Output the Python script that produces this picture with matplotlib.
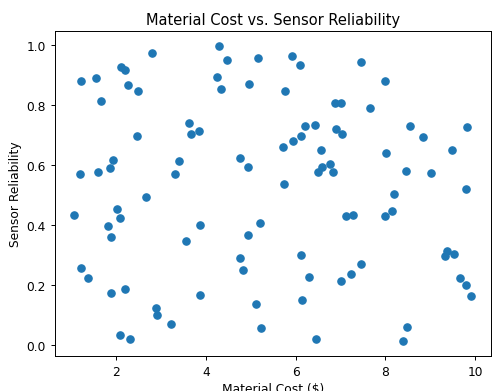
import numpy as np
import matplotlib
matplotlib.use('Agg')
import matplotlib.pyplot as plt

# values
material_cost = [
    1.209, 1.556, 2.098, 2.193, 2.793, 2.260, 2.475, 1.653, 3.616, 3.675,
    3.853, 2.460, 1.933, 1.867, 1.187, 1.593, 3.400, 3.304, 2.667, 4.282,
    4.460, 5.164, 5.911, 6.104, 4.245, 4.342, 4.964, 5.771, 6.875, 6.904,
    6.200, 6.431, 6.127, 5.942, 5.711, 6.556, 4.749, 4.949, 6.771, 6.578,
    6.504, 6.831, 5.733, 7.453, 8.000, 7.009, 7.667, 7.044, 8.556, 9.809,
    8.831, 8.022, 9.489, 8.467, 9.022, 8.200, 9.787, 1.067, 2.008, 2.082,
    1.816, 1.889, 3.870, 3.549, 1.209, 1.378, 1.889, 2.200, 2.882, 2.904,
    3.222, 2.082, 2.304, 3.860, 5.200, 4.949, 4.749, 4.831, 6.127, 6.304,
    7.022, 5.120, 6.142, 5.222, 6.453, 7.133, 7.282, 7.987, 8.149, 9.371,
    9.327, 9.520, 7.238, 7.453, 9.667, 9.787, 9.911, 8.476, 8.400,
]
sensor_reliability = [
    0.881, 0.892, 0.928, 0.919, 0.976, 0.867, 0.849, 0.813, 0.740, 0.704,
    0.714, 0.697, 0.617, 0.591, 0.570, 0.578, 0.614, 0.570, 0.492, 0.999,
    0.951, 0.958, 0.964, 0.934, 0.896, 0.854, 0.870, 0.847, 0.808, 0.722,
    0.730, 0.733, 0.698, 0.679, 0.661, 0.652, 0.623, 0.593, 0.604, 0.593,
    0.576, 0.576, 0.536, 0.946, 0.881, 0.808, 0.792, 0.704, 0.731, 0.726,
    0.693, 0.642, 0.652, 0.581, 0.572, 0.503, 0.520, 0.434, 0.452, 0.422,
    0.397, 0.361, 0.400, 0.346, 0.256, 0.223, 0.172, 0.184, 0.123, 0.099,
    0.070, 0.031, 0.019, 0.164, 0.408, 0.367, 0.290, 0.250, 0.299, 0.226,
    0.211, 0.134, 0.150, 0.056, 0.018, 0.431, 0.434, 0.429, 0.446, 0.312,
    0.297, 0.302, 0.237, 0.270, 0.222, 0.199, 0.161, 0.059, 0.011,
]

dpi = 88
fig = plt.figure(figsize=(492 / dpi, 392 / dpi), dpi=dpi)
ax = fig.add_axes([0.1108, 0.0893, 0.887, 0.829])
ax.scatter(material_cost, sensor_reliability, color='#1f77b4')
ax.set_title('Material Cost vs. Sensor Reliability')
ax.set_xlabel('Material Cost ($)')
ax.set_ylabel('Sensor Reliability')
fig.savefig('out.png', dpi=dpi)
